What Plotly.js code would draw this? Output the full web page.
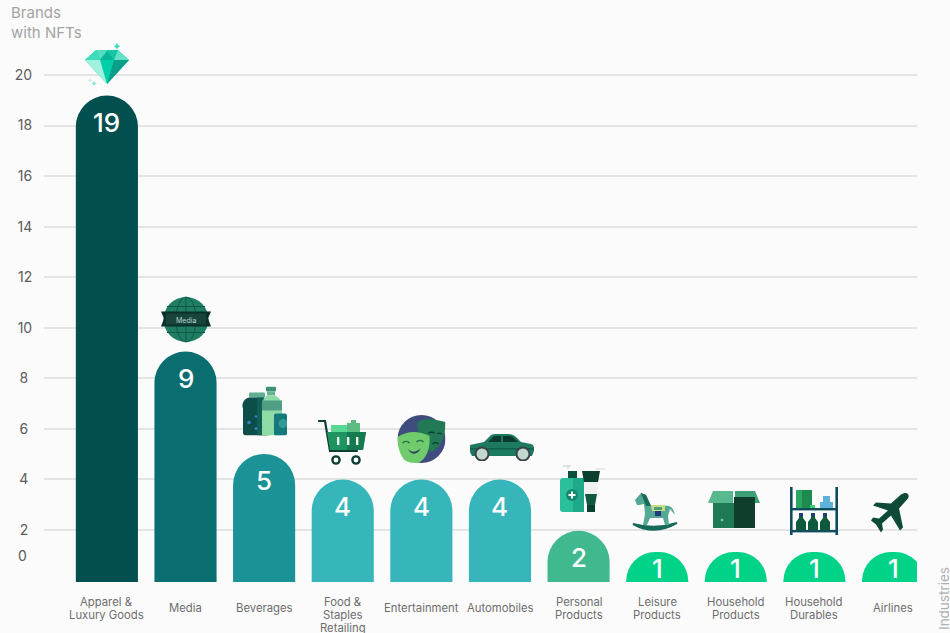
<!DOCTYPE html>
<html>
<head>
<meta charset="utf-8">
<script src="https://cdn.plot.ly/plotly-3.0.1.min.js"></script>
<style>html,body{margin:0;padding:0;background:#fbfbfb;overflow:hidden}</style>
</head>
<body>
<div id="chart" style="width:950px;height:633px"></div>
<script>
// Brands with NFTs, by industry
const categories = ["Apparel &<br>Luxury Goods","Media","Beverages","Food &<br>Staples<br>Retailing","Entertainment","Automobiles","Personal<br>Products","Leisure<br>Products","Household<br>Products","Household<br>Durables","Airlines"];
const brands = [19,9,5,4,4,4,2,1,1,1,1];
const barColors = ["#024f50","#0a6e70","#1a9296","#36b5ba","#36b5ba","#36b5ba","#41b98f","#00d387","#00d387","#00d387","#00d387"];
const tickValues = [2,4,6,8,10,12,14,16,18,20];

const FONT = "Inter, 'Noto Sans', sans-serif";
const plot = {left:44, right:917, top:40, bottom:582};
const plotW = plot.right - plot.left, plotH = plot.bottom - plot.top;

// Small pictograms that sit above each bar
const svg = (w,h,body) => `<svg xmlns="http://www.w3.org/2000/svg" width="${w*4}" height="${h*4}" viewBox="0 0 ${w} ${h}">${body}</svg>`;
const icons = [
 {cx:107,cy:64.5,w:44,h:43,body:`
  <polygon points="11,7 33,7 44,17 22,41 0,17" fill="#00cfa8"/>
  <polygon points="0,17 11,7 15,17" fill="#3fdcbc"/><polygon points="11,7 22,7 15,17" fill="#17c5a4"/>
  <polygon points="22,7 33,7 29,17" fill="#17c5a4"/><polygon points="33,7 44,17 29,17" fill="#66e0c8"/>
  <polygon points="11,7 22,7 22,9 15,17" fill="#55dcc0"/><polygon points="15,17 22,8 29,17" fill="#07b596"/>
  <polygon points="0,17 15,17 22,41" fill="#a2f0df"/><polygon points="29,17 44,17 22,41" fill="#0a9f88"/>
  <path d="M32 0l1.2 2 2 1.2-2 1.2-1.2 2-1.2-2-2-1.2 2-1.2z" fill="#3fdcbc"/>
  <path d="M9 38l1 1.6 1.6 1-1.6 1-1 1.4-1-1.4-1.6-1 1.6-1z" fill="#8ce8d4"/>
  <path d="M5 35l1 1.4 1.4 1-1.4 1-1 1.4-1-1.4-1.4-1 1.4-1z" fill="#c8f5ea"/>`},
 {cx:186,cy:319.5,w:50,h:46,body:`
  <circle cx="25" cy="23" r="22.5" fill="#1f7d64"/>
  <g fill="none" stroke="#0e5a48" stroke-width="1"><ellipse cx="25" cy="23" rx="10" ry="22.5"/><line x1="25" y1="0" x2="25" y2="46"/>
  <path d="M6 10h38M6 36h38M3 23h44"/></g>
  <polygon points="0,15 50,15 47,22 50,30 0,30 3,22" fill="#0b2f2a"/>
  <rect x="5" y="17" width="40" height="11" fill="#17453c"/>`},
 {cx:264,cy:411,w:46,h:49,body:`
  <rect x="8" y="6" width="16" height="5" rx="1" fill="#5fae90"/>
  <path d="M9 11h14l5 9v26a3 3 0 0 1-3 3H5a3 3 0 0 1-3-3V22a8 8 0 0 1 7-11z" fill="#0c4f4a"/>
  <path d="M16 11h7l5 9v29H16z" fill="#125f55"/>
  <circle cx="8" cy="36" r="1.8" fill="#3c7fc4"/><circle cx="15" cy="42" r="1.5" fill="#3c7fc4"/><circle cx="15" cy="30" r="1.2" fill="#3c7fc4"/>
  <rect x="25" y="0" width="10" height="5" rx="1" fill="#3f9274"/><rect x="26" y="5" width="8" height="4" fill="#64b58f"/>
  <path d="M26 9h8c4 2 7 5 7 10v30H21V19c0-5 2-8 5-10z" fill="#8edba5"/>
  <rect x="21" y="14" width="20" height="10" fill="#4f9d82"/>
  <rect x="33" y="27" width="13" height="22" rx="2" fill="#14787c"/><circle cx="42" cy="37" r="4.5" fill="#2f9c95"/>`},
 {cx:342,cy:442.5,w:48,h:45,body:`
  <rect x="13" y="5" width="17" height="11" fill="#57d895"/><rect x="29" y="3" width="13" height="13" fill="#5cbc82"/><rect x="33" y="0" width="5" height="5" fill="#5cbc82"/>
  <path d="M1 1h6l5 30h27" fill="none" stroke="#0d3f33" stroke-width="2.2" stroke-linecap="round"/>
  <polygon points="9,12 48,12 45,30 12,30" fill="#1f9460"/><polygon points="29,12 48,12 45,30 29,30" fill="#167a50"/>
  <g fill="#e8f3ee"><rect x="19" y="17" width="2.4" height="8"/><rect x="29" y="17" width="2.4" height="8"/><rect x="38" y="17" width="2.4" height="8"/></g>
  <circle cx="18" cy="40" r="3.6" fill="#fff" stroke="#0d3f33" stroke-width="2.4"/><circle cx="38" cy="40" r="3.6" fill="#fff" stroke="#0d3f33" stroke-width="2.4"/>`},
 {cx:421.5,cy:439,w:48,h:48,body:`
  <circle cx="24" cy="24" r="24" fill="#3f4d7e"/>
  <path d="M20 7c8-5 15-3 28 0 0 12-3 24-14 30-8-5-14-15-14-30z" fill="#217a55"/>
  <path d="M31 18c2-1 4-1 6 0M40 19c1-1 3-1 4 0M35 29c2-2 4-2 6 0" stroke="#0d3f33" stroke-width="1.6" fill="none"/>
  <path d="M0 22c10-6 20-7 32-1 1 12-3 24-12 27-4 0-9 0-13-3C2 39 0 31 0 22z" fill="#6fcb6b"/>
  <path d="M5 28c2-2 5-2 7 0M19 27c2-2 5-2 7 0" stroke="#2a6a45" stroke-width="1.6" fill="none"/>
  <path d="M10 33c3 5 9 5 13 0-2 7-10 8-13 0z" fill="#2a3f60"/>`},
 {cx:502,cy:447.5,w:64,h:27,body:`
  <path d="M0 11l14-3 7-7q2-1 5-1h12q5 0 8 3l5 5 10 2q3 1 3 4v3l-2 5H2l-2-4z" fill="#1b7a60"/>
  <path d="M18 8l5-5q1-1 3-1h5v6zM33 2h6q3 0 5 2l4 4H33z" fill="#0b3b30"/>
  <rect x="0" y="14" width="64" height="1.6" fill="#0f5a48" opacity=".8"/>
  <circle cx="12" cy="20" r="6.5" fill="#c2d8cf" stroke="#39424a" stroke-width="2"/><circle cx="53" cy="20" r="6.5" fill="#c2d8cf" stroke="#39424a" stroke-width="2"/>`},
 {cx:582.5,cy:487.5,w:45,h:49,body:`
  <path d="M3 3h8M8 3v3" stroke="#d8d8d8" stroke-width="1.4"/>
  <path d="M36 6h9" stroke="#e0e0e0" stroke-width="1.4"/>
  <rect x="8" y="8" width="9" height="7" fill="#0b4f3c"/>
  <rect x="0" y="15" width="24" height="34" rx="3" fill="#2cbf9c"/><rect x="13" y="15" width="11" height="34" fill="#1da98a"/>
  <circle cx="12" cy="32" r="6" fill="#128a70"/><path d="M12 28.5v7M8.5 32h7" stroke="#fff" stroke-width="2"/>
  <polygon points="22,8 40,8 38,19 24,19" fill="#0b3f30"/>
  <polygon points="24,19 38,19 37,31 25,31" fill="#eef3ef"/>
  <polygon points="25,31 37,31 35,42 27,42" fill="#0f5a3d"/><rect x="27" y="42" width="8" height="7" fill="#0b3f30"/>`},
 {cx:655,cy:513.5,w:46,h:41,body:`
  <path d="M1 31q22 12 44-1-22 7-44 1z" fill="#176a59" stroke="#176a59" stroke-width="2"/>
  <path d="M3 7l6-7 5 2 5 11 14 0c5-1 8 1 10 9l-5-6-2 7 1 9H33l-2-7H18l-3 7h-4l2-11-1-10-5 1-2 0z" fill="#55a896"/>
  <path d="M9 0l5 2 5 11h-5z" fill="#176a59"/>
  <path d="M19 12h14v6H20z" fill="#c8dc80"/><rect x="22" y="14" width="8" height="3" fill="#4f9d82"/><rect x="23" y="18" width="6" height="5" fill="#1d3e7a"/>`},
 {cx:734,cy:509.5,w:52,h:37,body:`
  <polygon points="5,0 25,0 25,12 0,12" fill="#58b88f"/><polygon points="27,0 47,0 52,12 27,12" fill="#3e9f77"/>
  <rect x="5" y="12" width="21" height="25" fill="#1d7a55"/><rect x="26" y="6" width="21" height="31" fill="#0f3f2c"/>
  <circle cx="14" cy="29" r="1.3" fill="#6ad29e"/>`},
 {cx:814,cy:511,w:48,h:48,body:`
  <g fill="#0f4c5c"><rect x="0" y="0" width="2.6" height="48"/><rect x="45.4" y="0" width="2.6" height="48"/><rect x="0" y="21" width="48" height="2.4"/><rect x="0" y="43" width="48" height="2.4"/></g>
  <rect x="6" y="3" width="16" height="18" fill="#1f8a50"/><rect x="6" y="3" width="6" height="18" fill="#2ba762"/><rect x="20" y="18" width="5" height="3" fill="#34d36b"/>
  <g fill="#5eb3dc"><rect x="30" y="15" width="13" height="6"/><rect x="33" y="9" width="7" height="6"/></g>
  <path d="M9 26h4v5l3 4v8H6v-8l3-4z" fill="#0f5a3d"/><rect x="9" y="26" width="4" height="3" fill="#1d3e7a"/>
  <path d="M21 26h4v5l3 4v8H18v-8l3-4z" fill="#0f5a3d"/><rect x="21" y="26" width="4" height="3" fill="#1d3e7a"/>
  <path d="M33 26h4v5l3 4v8H30v-8l3-4z" fill="#0f5a3d"/><rect x="33" y="26" width="4" height="3" fill="#1d3e7a"/>`},
 {cx:890,cy:514,w:38,h:43,body:`
  <path d="M36 1c2 1 2 3 1 5l-9 10 4 19-3 3-9-15-9 8 1 6-2 3-5-8-5-4 2-3 6 1 9-8L2 13l3-3 15 1 10-9c2-1 4-2 6-1z" fill="#0f4a38"/>`}
];

const images = icons.map(ic => ({
  source: "data:image/svg+xml," + encodeURIComponent(svg(ic.w, ic.h, ic.body)),
  xref:"paper", yref:"paper", layer:"above", sizing:"stretch",
  x:(ic.cx-plot.left)/plotW, y:(plot.bottom-ic.cy)/plotH,
  sizex:ic.w/plotW, sizey:ic.h/plotH, xanchor:"center", yanchor:"middle"
}));

// Single-brand industries use a stretched scale so their caps read as full domes
const axisFor = v => v === 1 ? "y3" : "y2";

// Value printed inside the top of each bar
const valueLabels = brands.map((v,i) => ({
  xref:"x", yref:axisFor(v), x:i, y:v, yshift: v===1 ? -16 : -27, text:String(v), showarrow:false,
  font:{family:FONT,size:26,color:"#ffffff",weight:500}, yanchor:"middle", xanchor:"center"
}));

// Category names set line by line for a tight 13px leading; one-line names sit between the rows
const categoryLabels = categories.flatMap((c,i) => {
  const lines = c.split("<br>");
  return lines.map((line,k) => ({
    xref:"x", yref:"paper", x:i, y:0, yanchor:"middle", xanchor:"center", showarrow:false,
    yshift: lines.length === 1 ? -26 : -20 - 13*k, text:line, font:{family:FONT,size:11.3,color:"#6d6d6d"}
  }));
});

const extras = [
  {xref:"paper", yref:"y", x:0, y:1, xshift:-15.5, xanchor:"right", yanchor:"middle", showarrow:false, text:"0",
   font:{family:FONT,size:14,color:"#5c5c5c"}},
  {xref:"paper", yref:"paper", x:-0.0401, y:1.0, xanchor:"left", yanchor:"bottom", yshift:-4.5, align:"left", showarrow:false,
   text:"Brands<br>with NFTs", font:{family:FONT,size:15,color:"#a3a3a3"}},
  {xref:"paper", yref:"paper", x:(943.5-plot.left)/plotW, y:(plot.bottom-598.5)/plotH, xanchor:"center", yanchor:"middle", textangle:-90, showarrow:false,
   text:"Industries", font:{family:FONT,size:13.5,color:"#b0b0b0"}},
  {xref:"paper", yref:"paper", x:(186-plot.left)/plotW, y:(plot.bottom-320.5)/plotH, xanchor:"center", yanchor:"middle", showarrow:false,
   text:"Media", font:{family:FONT,size:7,color:"#b9d8cd"}}
];

const layout = {
  width:950, height:633, showlegend:false,
  paper_bgcolor:"#fbfbfb", plot_bgcolor:"#fbfbfb",
  margin:{l:plot.left, r:950-plot.right, t:plot.top, b:633-plot.bottom, pad:0},
  barcornerradius:31, bargap:0.21,
  xaxis:{type:"category", range:[-0.80,10.305], showgrid:false, zeroline:false, showline:false, ticks:"", showticklabels:false, fixedrange:true},
  yaxis:{range:[-0.057,21.385], tickmode:"array", tickvals:tickValues, ticktext:tickValues.map(v => v < 10 ? v + "\u00a0" : String(v)),
         showgrid:true, gridcolor:"#e4e4e4", gridwidth:2, zeroline:false, showline:false, ticks:"outside", ticklen:8, tickcolor:"rgba(0,0,0,0)",
         tickfont:{family:FONT,size:14,color:"#5c5c5c"}, fixedrange:true},
  yaxis2:{overlaying:"y", side:"left", range:[0,21.17], visible:false, fixedrange:true},
  yaxis3:{overlaying:"y", side:"left", range:[0,18.07], visible:false, fixedrange:true},
  images:images,
  annotations:[...valueLabels, ...categoryLabels, ...extras]
};

// One bar trace per scale, both reading from the same arrays
const barTrace = axis => {
  const idx = brands.map((v,i) => i).filter(i => axisFor(brands[i]) === axis);
  return {
    type:"bar", x:idx, y:idx.map(i => brands[i]), yaxis:axis, cliponaxis:false,
    marker:{color:idx.map(i => barColors[i]), line:{width:0}}, hoverinfo:"skip"
  };
};

Plotly.newPlot("chart",[barTrace("y2"),barTrace("y3")],layout,{displayModeBar:false,staticPlot:true});
</script>
</body>
</html>
